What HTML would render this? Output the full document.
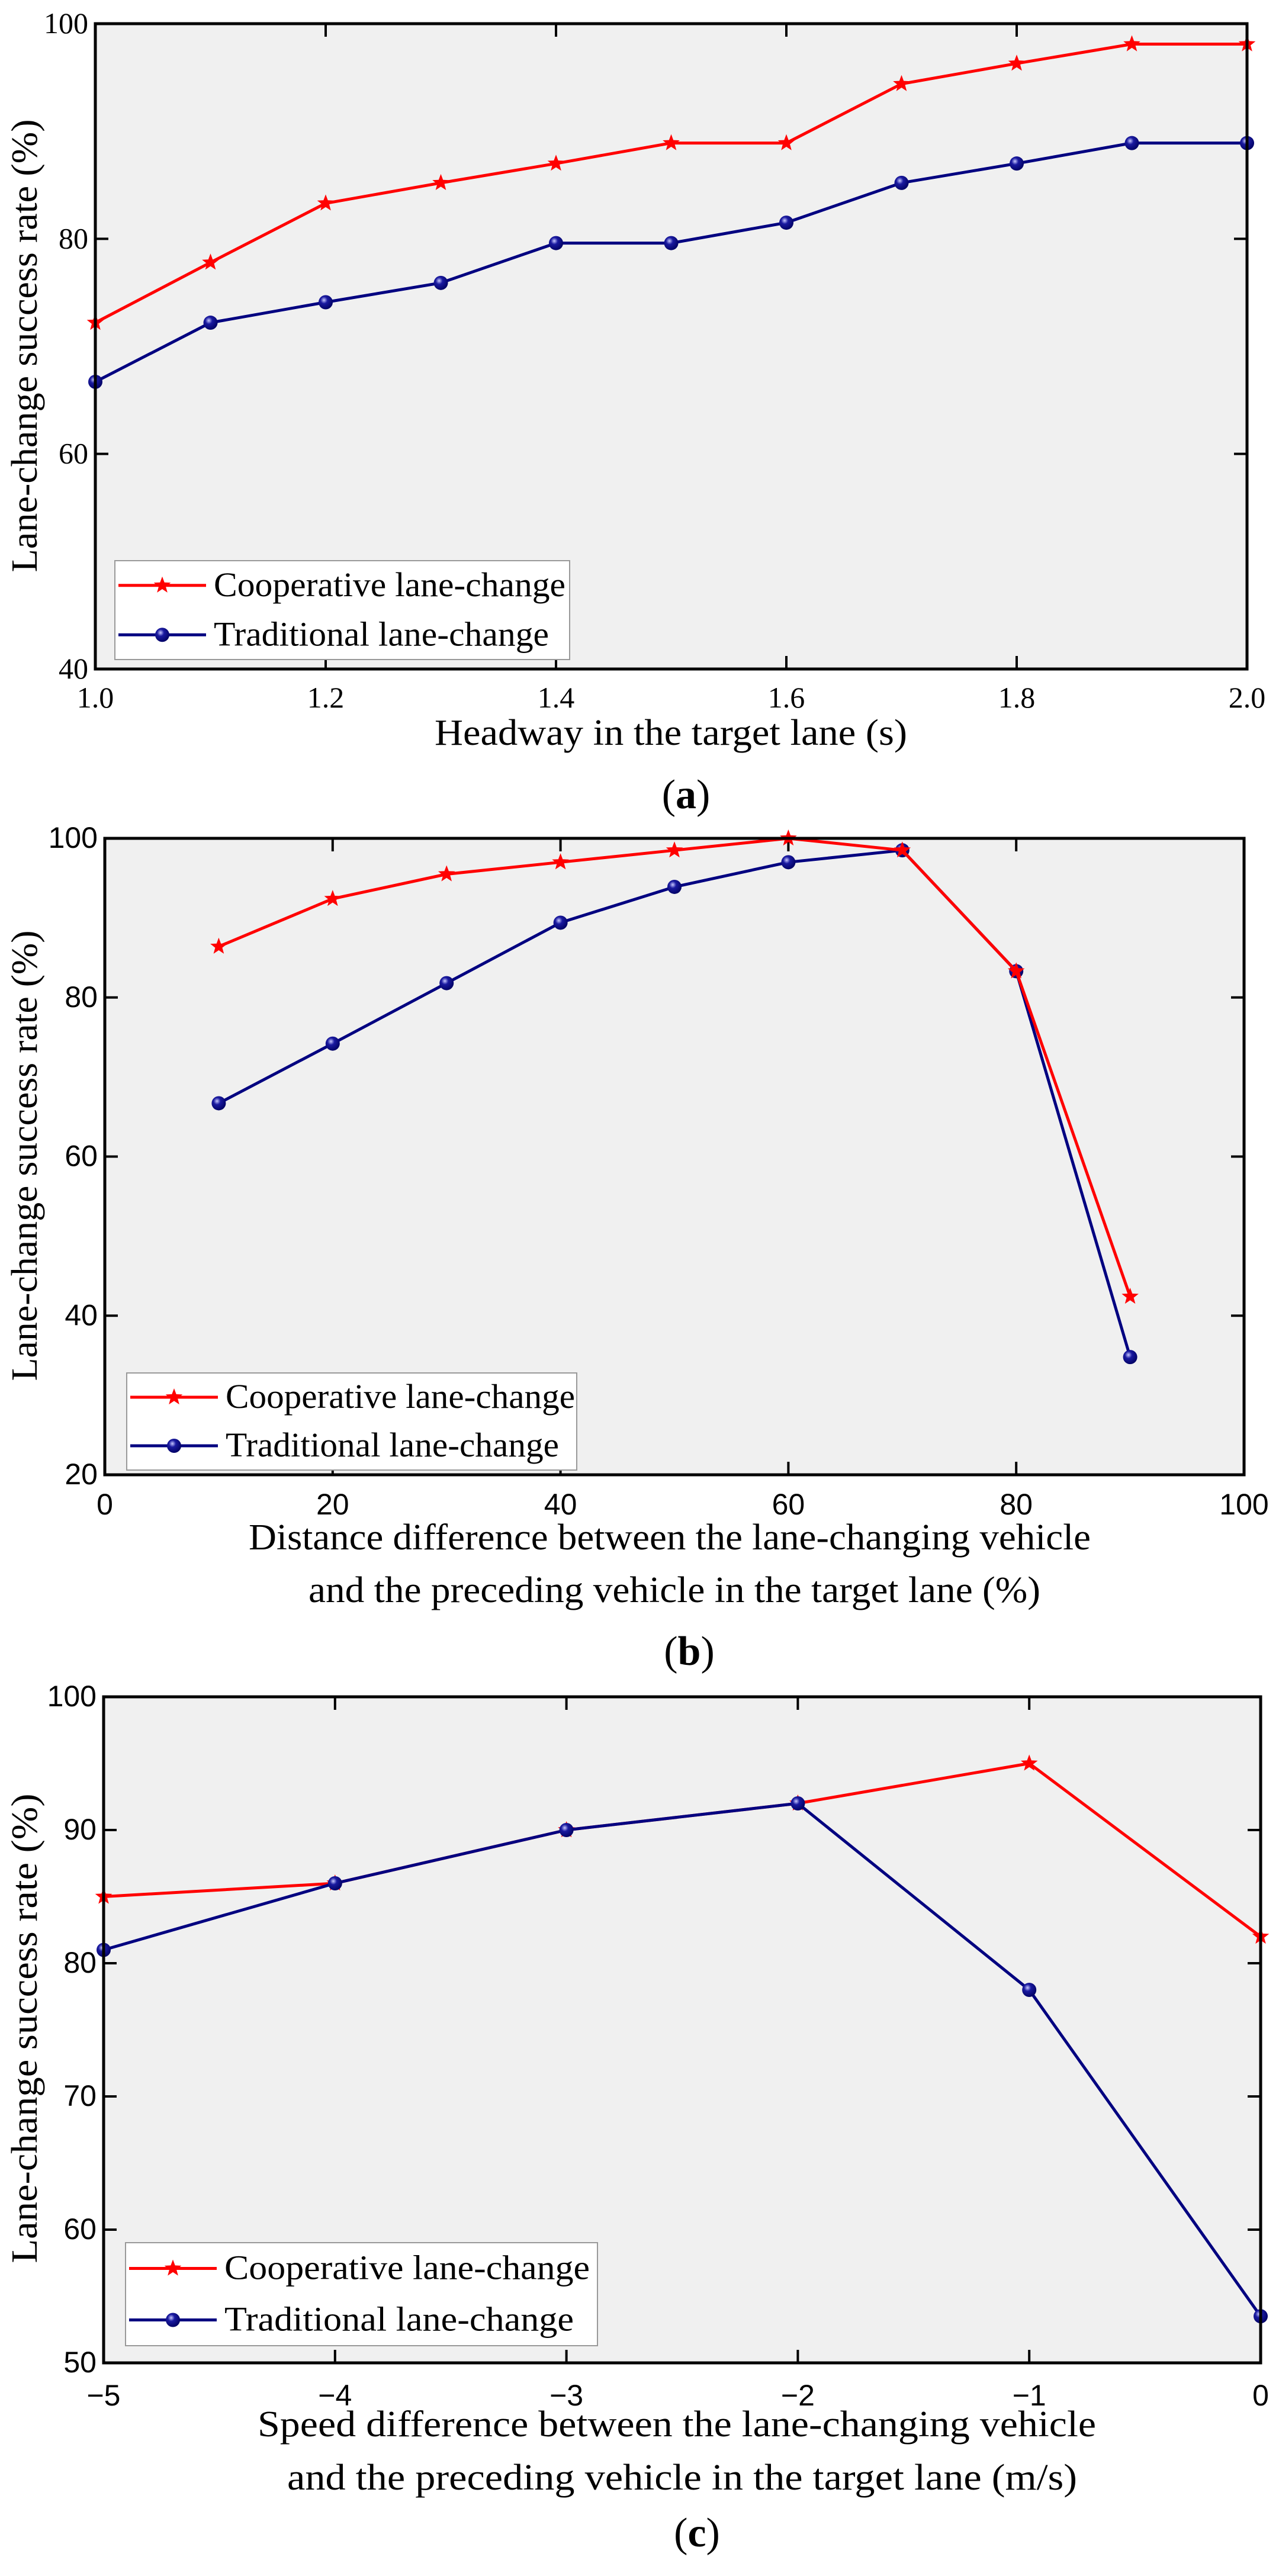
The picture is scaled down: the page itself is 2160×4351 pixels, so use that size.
<!DOCTYPE html>
<html><head><meta charset="utf-8"><style>
html,body{margin:0;padding:0;background:#fff;}
svg{display:block;}
text{font-family:"Liberation Serif",serif;fill:#000;}
.sans{font-family:"Liberation Sans",sans-serif;}
</style></head><body>
<svg id="fig" width="2160" height="4351" viewBox="0 0 2160 4351"></svg>
<script>
// Panel (a)
const aX = [1.0,1.1,1.2,1.3,1.4,1.5,1.6,1.7,1.8,1.9,2.0];
const aCoop = [72.2,77.8,83.3,85.2,87.0,88.9,88.9,94.4,96.3,98.1,98.1];
const aTrad = [66.7,72.2,74.1,75.9,79.6,79.6,81.5,85.2,87.0,88.9,88.9];
const aXTicks = [1.0,1.2,1.4,1.6,1.8,2.0];
const aXTickLabels = ["1.0","1.2","1.4","1.6","1.8","2.0"];
const aYTicks = [40,60,80,100];
// Panel (b)
const bX = [10,20,30,40,50,60,70,80,90];
const bCoop = [86.4,92.4,95.5,97.0,98.5,100,98.5,83.3,42.4];
const bTrad = [66.7,74.2,81.8,89.4,93.9,97.0,98.5,83.3,34.8];
const bXTicks = [0,20,40,60,80,100];
const bYTicks = [20,40,60,80,100];
// Panel (c)
const cX = [-5,-4,-3,-2,-1,0];
const cCoop = [85,86,90,92,95,82];
const cTrad = [81,86,90,92,78,53.5];
const cXTicks = [-5,-4,-3,-2,-1,0];
const cXTickLabels = ["\u22125","\u22124","\u22123","\u22122","\u22121","0"];
const cYTicks = [50,60,70,80,90,100];

const NS = "http://www.w3.org/2000/svg";
const svg = document.getElementById("fig");
function mk(tag, attrs, parent){ const e=document.createElementNS(NS,tag); for(const k in attrs) e.setAttribute(k,attrs[k]); (parent||svg).appendChild(e); return e; }
function txt(s, attrs, parent){ const e=mk("text",attrs,parent); e.textContent=s; return e; }

const defs = mk("defs",{});
const rg = mk("radialGradient",{id:"ball",cx:"0.38",cy:"0.35",r:"0.7"},defs);
mk("stop",{offset:"0","stop-color":"#c8c8ff"},rg);
mk("stop",{offset:"0.35","stop-color":"#1a1aa0"},rg);
mk("stop",{offset:"1","stop-color":"#000060"},rg);

function starPts(cx,cy,R){ let p=[]; for(let i=0;i<10;i++){ const r=i%2?R*0.42:R; const a=-Math.PI/2+i*Math.PI/5; p.push((cx+r*Math.cos(a)).toFixed(1)+","+(cy+r*Math.sin(a)).toFixed(1)); } return p.join(" "); }

function panel(cfg){
  const g = mk("g",{});
  
  
  const sx = v => cfg.L + (v-cfg.xmin)/(cfg.xmax-cfg.xmin)*(cfg.R-cfg.L);
  const sy = v => cfg.B - (v-cfg.ymin)/(cfg.ymax-cfg.ymin)*(cfg.B-cfg.T);
  const bg = mk("rect",{x:cfg.L,y:cfg.T,width:cfg.R-cfg.L,height:cfg.B-cfg.T,fill:"#f0f0f0"},g);
  
  
  const tcls = cfg.sans ? "sans" : "";
  cfg.xticks.forEach((t,i)=>{
    const x=sx(t);
    mk("line",{x1:x,y1:cfg.B,x2:x,y2:cfg.B-22,stroke:"#000","stroke-width":4},g);
    mk("line",{x1:x,y1:cfg.T,x2:x,y2:cfg.T+22,stroke:"#000","stroke-width":4},g);
    const lt = txt(cfg.xlabels[i],{x:x,y:cfg.xtY,"text-anchor":"middle","font-size":cfg.fs,class:tcls},g);
    
    
  });
  cfg.yticks.forEach(t=>{
    const y=sy(t);
    mk("line",{x1:cfg.L,y1:y,x2:cfg.L+22,y2:y,stroke:"#000","stroke-width":4},g);
    mk("line",{x1:cfg.R,y1:y,x2:cfg.R-22,y2:y,stroke:"#000","stroke-width":4},g);
    const lt = txt(String(t),{x:cfg.L-12,y:y+16,"text-anchor":"end","font-size":cfg.fs,class:tcls},g);
    
    
  });
  const series = [
    {ys:cfg.coop,color:"#ff0000",type:"star",name:"cooperative-line"},
    {ys:cfg.trad,color:"#000080",type:"ball",name:"traditional-line"}
  ];
  const drawOrder = cfg.tradFirst ? [series[1],series[0]] : series;
  drawOrder.forEach(s=>{
    const pts = cfg.xs.map((x,i)=>sx(x).toFixed(1)+","+sy(s.ys[i]).toFixed(1)).join(" ");
    const pl = mk("polyline",{points:pts,fill:"none",stroke:s.color,"stroke-width":5,"stroke-linejoin":"round"},g);
    
    
    cfg.xs.forEach((x,i)=>{
      let m;
      if(s.type==="star") m = mk("polygon",{points:starPts(sx(x),sy(s.ys[i]),15),fill:s.color},g);
      else m = mk("circle",{cx:sx(x),cy:sy(s.ys[i]),r:12,fill:"url(#ball)"},g);
      
      
    });
  });
  const fr = mk("rect",{x:cfg.L,y:cfg.T,width:cfg.R-cfg.L,height:cfg.B-cfg.T,fill:"none",stroke:"#000","stroke-width":5},g);
  
  
  const lg = mk("g",{},g);
  
  
  const [lx1,ly1,lx2,ly2] = cfg.leg;
  mk("rect",{x:lx1,y:ly1,width:lx2-lx1,height:ly2-ly1,fill:"#fff",stroke:"#999","stroke-width":2},lg);
  const rowH=(ly2-ly1)/2;
  [["Cooperative lane-change","#ff0000","star"],["Traditional lane-change","#000080","ball"]].forEach((e,i)=>{
    const cy = ly1+rowH*(i+0.5);
    const eg = mk("g",{},lg);
    
    
    mk("line",{x1:lx1+6,y1:cy,x2:lx1+154,y2:cy,stroke:e[1],"stroke-width":5},eg);
    if(e[2]==="star") mk("polygon",{points:starPts(lx1+80,cy,15),fill:e[1]},eg);
    else mk("circle",{cx:lx1+80,cy:cy,r:12,fill:"url(#ball)"},eg);
    const w = i===0 ? cfg.legW[0] : cfg.legW[1];
    txt(e[0],{x:lx1+167,y:cy+18,"font-size":58,textLength:w,lengthAdjust:"spacingAndGlyphs"},eg);
  });
  const yl = txt("Lane-change success rate (%)",{x:0,y:0,"text-anchor":"middle","font-size":62,transform:`translate(${cfg.ylX},${cfg.ylY}) rotate(-90)`,textLength:cfg.ylLen,lengthAdjust:"spacingAndGlyphs"},g);
  
  
  cfg.xtitle.forEach(t=>{
    const xl = txt(t[0],{x:(t[1]+t[2])/2,y:t[3],"text-anchor":"middle","font-size":62,textLength:t[2]-t[1],lengthAdjust:"spacingAndGlyphs"},g);
    
    
  });
  const cap = mk("text",{x:(cfg.L+cfg.R)/2+25,y:cfg.capY,"text-anchor":"middle","font-size":70},g);
  
  
  cap.appendChild(document.createTextNode("("));
  const b = mk("tspan",{"font-weight":"bold"},cap); b.textContent=cfg.cap;
  cap.appendChild(document.createTextNode(")"));
}

panel({name:"chart-a",L:161,R:2106,T:40,B:1130,xmin:1,xmax:2,ymin:40,ymax:100,
  xs:aX,coop:aCoop,trad:aTrad,xticks:aXTicks,xlabels:aXTickLabels,yticks:aYTicks,
  fs:50,sans:false,xtY:1195,leg:[194,947,962,1114],legW:[594,566],
  ylX:62,ylY:584,ylLen:765,xtitle:[["Headway in the target lane (s)",734,1532,1258]],capY:1365,cap:"a"});
panel({name:"chart-b",L:177,R:2101,T:1416,B:2491,xmin:0,xmax:100,ymin:20,ymax:100,
  xs:bX,coop:bCoop,trad:bTrad,xticks:bXTicks,xlabels:bXTicks.map(String),yticks:bYTicks,
  fs:50,sans:true,xtY:2558,leg:[214,2319,974,2483],legW:[590,563],tradFirst:true,
  ylX:62,ylY:1952,ylLen:761,xtitle:[["Distance difference between the lane-changing vehicle",420,1842,2617],["and the preceding vehicle in the target lane (%)",521,1757,2706]],capY:2812,cap:"b"});
panel({name:"chart-c",L:175,R:2129,T:2866,B:3991,xmin:-5,xmax:0,ymin:50,ymax:100,
  xs:cX,coop:cCoop,trad:cTrad,xticks:cXTicks,xlabels:cXTickLabels,yticks:cYTicks,
  fs:50,sans:true,xtY:4063,leg:[212,3788,1009,3962],legW:[617,590],
  ylX:62,ylY:3426,ylLen:793,xtitle:[["Speed difference between the lane-changing vehicle",435,1851,4115],["and the preceding vehicle in the target lane (m/s)",485,1819,4205]],capY:4301,cap:"c"});
</script>
</body></html>
